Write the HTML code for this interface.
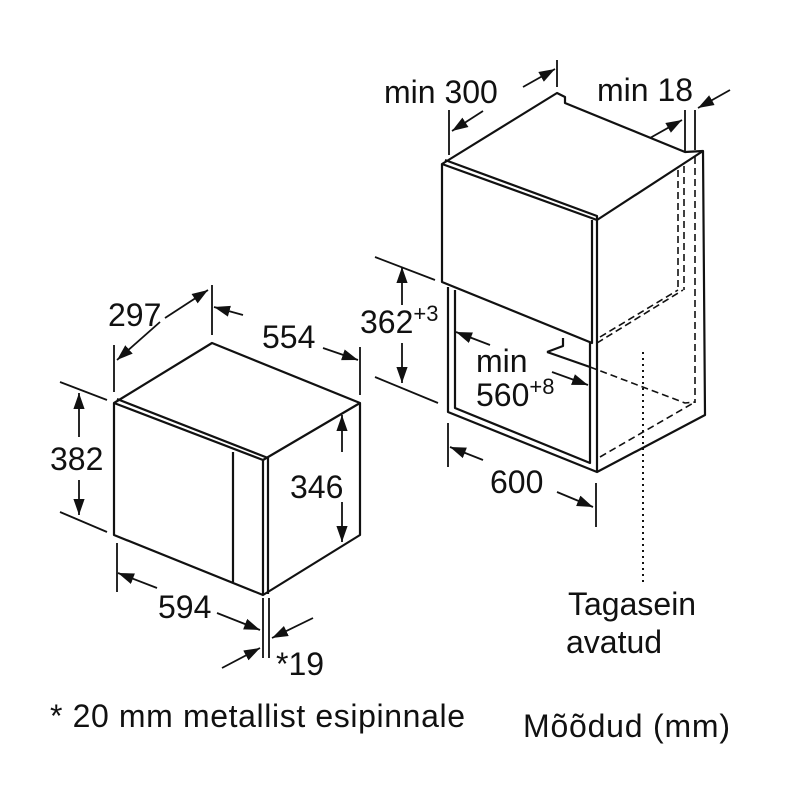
<!DOCTYPE html>
<html><head><meta charset="utf-8"><style>
html,body{margin:0;padding:0;background:#fff;}
svg{display:block;}
text{font-family:"Liberation Sans",sans-serif;fill:#111;font-size:32px;}
</style></head><body>
<svg width="800" height="800" viewBox="0 0 800 800" xmlns="http://www.w3.org/2000/svg">
<defs>
<marker id="a" viewBox="0 0 10 10" refX="10" refY="5" markerWidth="16" markerHeight="16" markerUnits="userSpaceOnUse" orient="auto">
<path d="M0,1.5 L10,5 L0,8.5 z" fill="#111"/></marker>
</defs>
<g stroke="#111" stroke-width="2.2" fill="none" stroke-linejoin="round">
<!-- microwave -->
<path d="M114,403 L212,343 L360,403 L360,535 L263,595 L114,535 Z"/>
<path d="M114,403 L263,460 L360,403"/>
<path d="M263,460 L263,595"/>
<path d="M117,399 L268,458 L268,594"/>
<path d="M233,452 L233,582"/>
<!-- microwave dims -->
<g stroke-width="1.8">
<path d="M114,345 L114,392 M212,285 L212,335 M360,347 L360,395"/>
<path d="M160,322 L117,360" marker-end="url(#a)"/><path d="M165,318 L208,290" marker-end="url(#a)"/>
<path d="M243,315 L214,307" marker-end="url(#a)"/><path d="M323,348 L358,360" marker-end="url(#a)"/>
<path d="M60,382 L107,400 M60,512 L107,532"/>
<path d="M79,437 L79,393" marker-end="url(#a)"/><path d="M79,480 L79,515" marker-end="url(#a)"/>
<path d="M342,452 L342,415" marker-end="url(#a)"/><path d="M342,502 L342,542" marker-end="url(#a)"/>
<path d="M117,543 L117,592 M263,598 L263,658 M269,598 L269,658"/>
<path d="M157,588 L118,573" marker-end="url(#a)"/><path d="M217,613 L260,630" marker-end="url(#a)"/>
<path d="M313,618 L272,638" marker-end="url(#a)"/><path d="M222,668 L260,648" marker-end="url(#a)"/>
</g>
<!-- cabinet -->
<path d="M442,164 L557,93 L565,97 L565,103 L685,152 L703,151 L597,220 L442,164 Z"/>
<path d="M442,164 L442,282 L592,343 L592,220"/>
<path d="M445,160 L597,216 L597,220"/>
<path d="M703,151 L705,415 L597,472 L448,412 L448,287"/>
<path d="M455,290 L455,408 L590,463 L590,343"/>
<path d="M597,220 L597,472"/>
<path d="M547,352 L590,367 M547,352 L563,346 L563,338"/>
<g stroke-dasharray="7,4" stroke-width="1.6">
<path d="M678,170 L678,290 M684,166 L684,290 M695,157 L695,403"/>
<path d="M597,343 L683,290 M600,337 L678,290"/>
<path d="M590,367 L685,403 L695,402 M600,457 L695,402"/>
</g>
<path d="M643,352 L643,585" stroke-dasharray="2,4" stroke-width="2"/>
<!-- cabinet dims -->
<g stroke-width="1.8">
<path d="M449,110 L449,155 M557,60 L557,87"/>
<path d="M483,111 L452,131" marker-end="url(#a)"/><path d="M523,87 L555,69" marker-end="url(#a)"/>
<path d="M685,110 L685,152 M695,110 L695,150"/>
<path d="M650,138 L682,120" marker-end="url(#a)"/><path d="M730,90 L698,108" marker-end="url(#a)"/>
<path d="M375,257 L435,280 M375,377 L438,403"/>
<path d="M402,305 L402,267" marker-end="url(#a)"/><path d="M402,343 L402,383" marker-end="url(#a)"/>
<path d="M490,345 L456,332" marker-end="url(#a)"/><path d="M552,372 L588,385" marker-end="url(#a)"/>
<path d="M448,423 L448,467 M596,483 L596,527"/>
<path d="M483,460 L450,447" marker-end="url(#a)"/><path d="M557,492 L593,507" marker-end="url(#a)"/>
</g>
</g>
<text x="108" y="326">297</text>
<text x="262" y="348">554</text>
<text x="50" y="470">382</text>
<text x="290" y="498">346</text>
<text x="158" y="618">594</text>
<text x="276" y="675">*19</text>
<text x="384" y="103">min 300</text>
<text x="597" y="101">min 18</text>
<text x="360" y="333">362<tspan font-size="22" dy="-12">+3</tspan></text>
<text x="476" y="372">min</text>
<text x="476" y="406">560<tspan font-size="22" dy="-12">+8</tspan></text>
<text x="490" y="493">600</text>
<text x="568" y="615">Tagasein</text>
<text x="566" y="653">avatud</text>
<text x="50" y="727" textLength="415" font-size="30">* 20 mm metallist esipinnale</text>
<text x="523" y="737" textLength="207">Mõõdud (mm)</text>
</svg>
</body></html>
